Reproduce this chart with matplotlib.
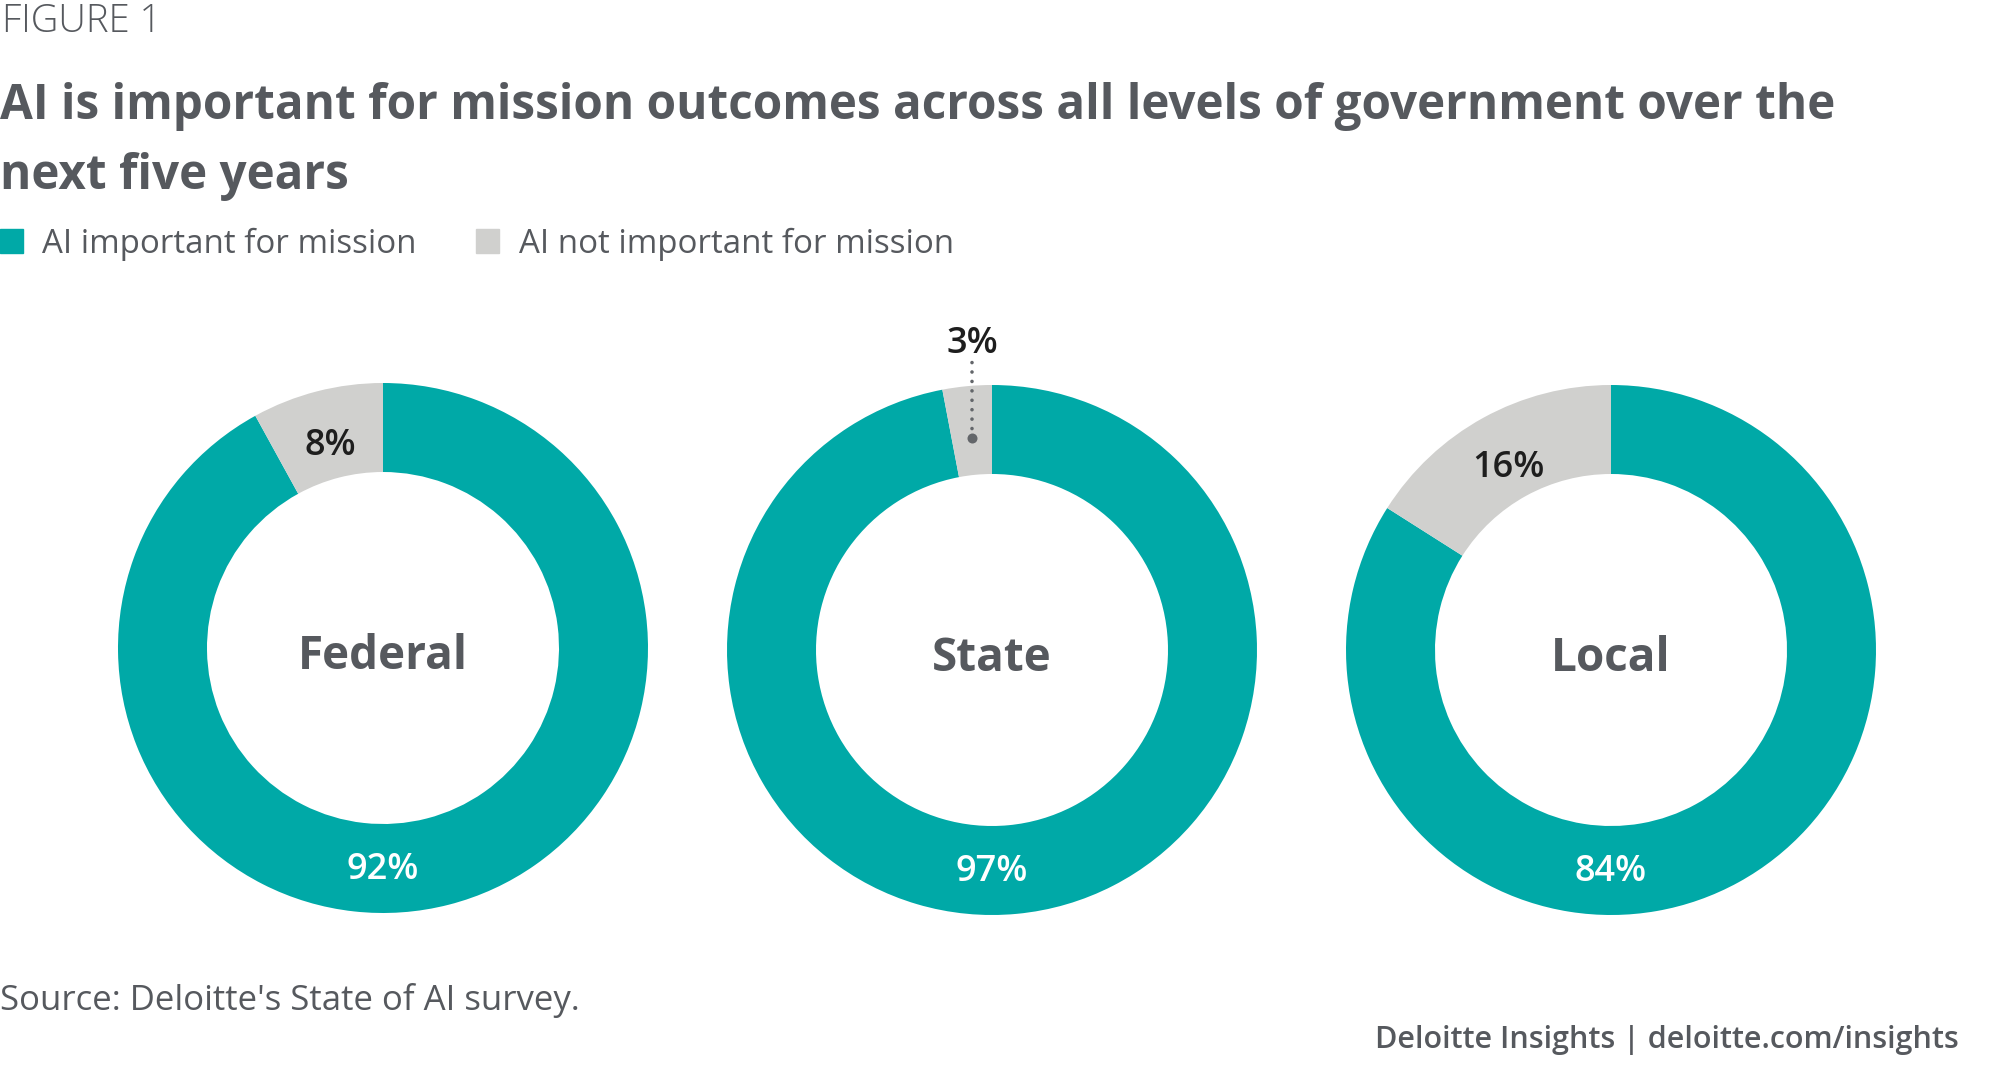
import matplotlib
matplotlib.use("Agg")
import matplotlib.pyplot as plt
from matplotlib.patches import Patch
import numpy as np

# Данные
levels = ["Federal", "State", "Local"]
important = [92, 97, 84]
not_important = [8, 3, 16]
series_names = ["AI important for mission", "AI not important for mission"]

teal = "#00a9a7"
light = "#d0d0ce"
text_gray = "#56595e"

W, H = 2000, 1079
fig = plt.figure(figsize=(W / 100, H / 100), dpi=100)
plt.rcParams["font.family"] = ["Open Sans", "DejaVu Sans"]

# центры колец в пикселях (от верхнего левого угла) и радиус
centers = [(383, 648), (992, 650), (1611, 650)]
r_out, r_in = 265, 176

for i, name in enumerate(levels):
    cx, cy = centers[i]
    ax = fig.add_axes([(cx - r_out) / W, (H - cy - r_out) / H, 2 * r_out / W, 2 * r_out / H])
    wedges, _ = ax.pie([important[i], not_important[i]], colors=[teal, light],
                       startangle=90, counterclock=False, radius=1,
                       wedgeprops=dict(width=(r_out - r_in) / r_out, linewidth=0))
    ax.set_xlim(-1, 1)
    ax.set_ylim(-1, 1)
    ax.set_aspect("equal")
    ax.axis("off")

    rm = (r_out + r_in) / 2 / r_out
    # подпись "важно" - всегда внизу кольца
    ax.text(0, -0.82, f"{important[i]}%", color="white",
            fontsize=26, fontweight=600, ha="center", va="center_baseline")
    # подпись "не важно"
    w = wedges[1]
    a = np.deg2rad((w.theta1 + w.theta2) / 2)
    px, py = 0.805 * np.cos(a), 0.805 * np.sin(a)
    if not_important[i] < 5:
        ax.plot([px], [py], "o", color="#63666a", markersize=7.2, markeredgewidth=0,
                clip_on=False)
        ax.plot([px, px], [py, 1.085], color="#63666a", linewidth=2.6,
                linestyle=(0, (0.01, 2.6)), dash_capstyle="round", clip_on=False)
        ax.text(px, 1.17, f"{not_important[i]}%", color="#1e1e1e",
                fontsize=26, fontweight=600, ha="center", va="center_baseline")
    else:
        ax.text(px, py, f"{not_important[i]}%", color="#1e1e1e",
                fontsize=26, fontweight=600, ha="center", va="center_baseline")

    ax.text(0, -0.01, name, color=text_gray, fontsize=33, fontweight="bold",
            ha="center", va="center_baseline")

# Заголовки
fig.text(2 / W, 1 - 22 / H, "FIGURE 1", color=text_gray, fontsize=27.5,
         fontweight="light", ha="left", va="center")

t1 = fig.text(0, 1 - 119 / H, "AI is important for mission outcomes across all levels of government over the",
              color=text_gray, fontsize=44, fontweight="bold", ha="left", va="baseline")
t2 = fig.text(0, 1 - 189 / H, "next five years",
              color=text_gray, fontsize=44, fontweight="bold", ha="left", va="baseline")
# подгонка ширины заголовка
r = fig.canvas.get_renderer()
wpx = t1.get_window_extent(r).width
fs = 44 * 1837 / wpx
t1.set_fontsize(fs)
t2.set_fontsize(fs)

handles = [Patch(color=teal), Patch(color=light)]
fig.legend(handles, series_names, loc="center left", bbox_to_anchor=(0, 1 - 244 / H),
           ncol=2, frameon=False, fontsize=23.8, labelcolor=text_gray,
           handlelength=0.7, handleheight=0.7, handletextpad=0.58,
           columnspacing=1.8, borderaxespad=0, borderpad=0)

fig.text(0, 1 - 1000 / H, "Source: Deloitte's State of AI survey.", color=text_gray,
         fontsize=25, ha="left", va="center")
fig.text(1959 / W, 1 - 1040 / H, "Deloitte Insights | deloitte.com/insights",
         color=text_gray, fontsize=22, fontweight=600, ha="right", va="center")

fig.savefig("out.png", dpi=100)
